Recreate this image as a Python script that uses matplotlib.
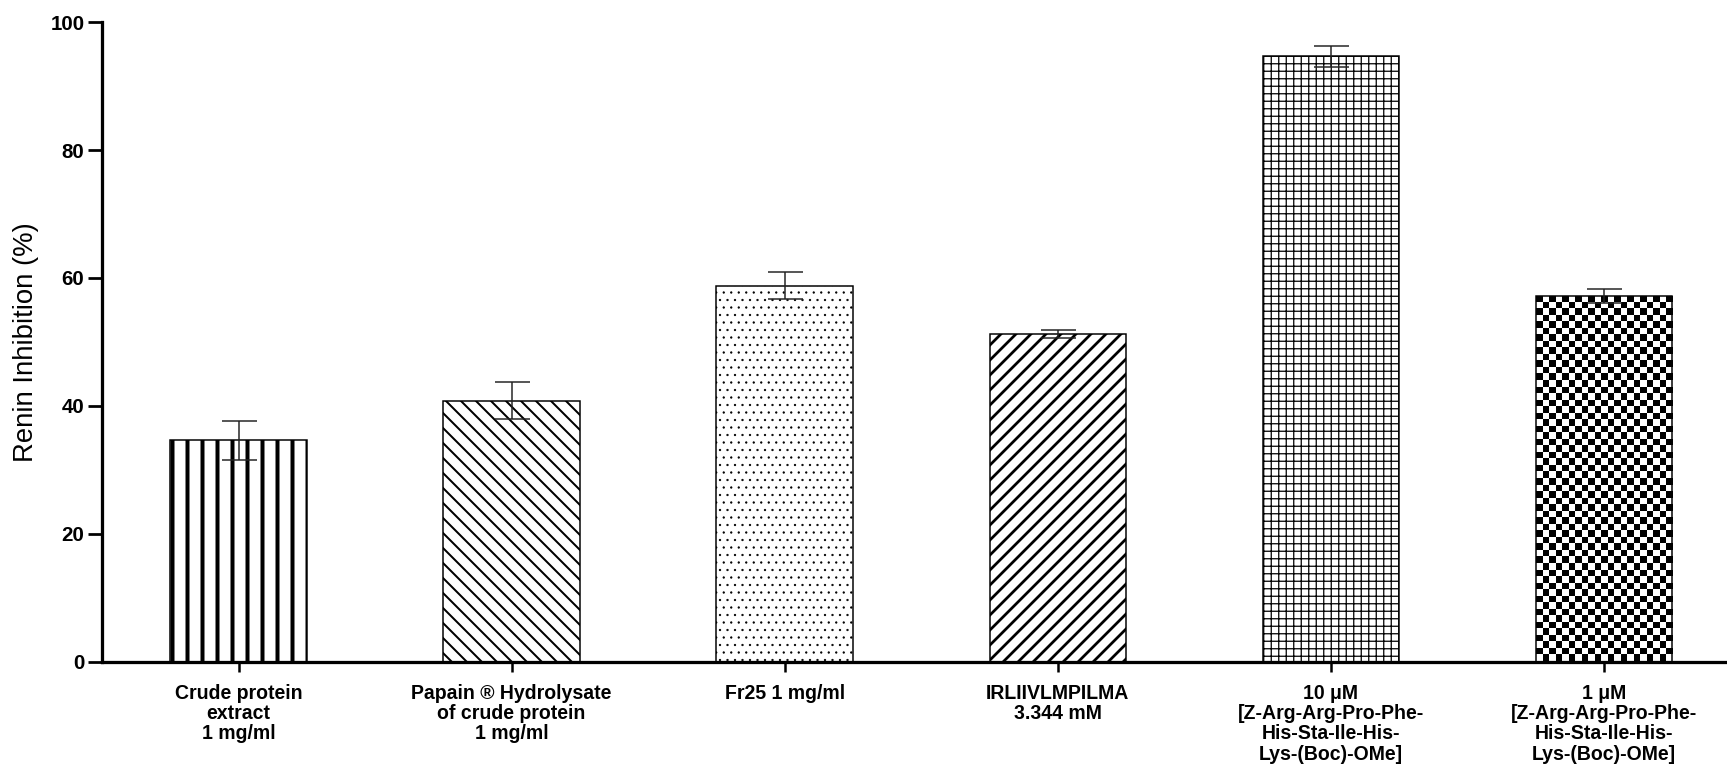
import numpy as np
import matplotlib
matplotlib.use('Agg')
import matplotlib.pyplot as plt

# --------------------------
# data
# --------------------------
categories = [
    'Crude protein\nextract\n1 mg/ml',
    'Papain ® Hydrolysate\nof crude protein\n1 mg/ml',
    'Fr25 1 mg/ml',
    'IRLIIVLMPILMA\n3.344 mM',
    '10 μM\n[Z-Arg-Arg-Pro-Phe-\nHis-Sta-Ile-His-\nLys-(Boc)-OMe]',
    '1 μM\n[Z-Arg-Arg-Pro-Phe-\nHis-Sta-Ile-His-\nLys-(Boc)-OMe]',
]
inhibition = [34.6, 40.8, 58.8, 51.2, 94.7, 57.2]
sem = [3.1, 2.85, 2.15, 0.6, 1.65, 1.1]
y_ticks = [0, 20, 40, 60, 80, 100]

# fill style of every bar (last one is a checkerboard, drawn below)
hatches = ['|', '\\\\', '..', '//', '++', None]
hatch_lws = [3.2, 1.6, 0.6, 2.2, 1.0, 1.0]

DPI = 90
W, H = 1727, 773

plt.rcParams['font.family'] = ['Liberation Sans', 'DejaVu Sans']

fig = plt.figure(figsize=(W / DPI, H / DPI), dpi=DPI)
ax = fig.add_axes([102 / W, 1 - 661.5 / H, 1 - 102 / W, (661.5 - 22.3) / H])

x = np.arange(len(categories))
bars = []
for i in range(len(categories)):
    with plt.rc_context({'hatch.linewidth': hatch_lws[i]}):
        b = ax.bar(x[i], inhibition[i], width=0.5,
                   facecolor='white' if hatches[i] else 'none',
                   edgecolor='black', linewidth=1.2,
                   hatch=hatches[i], zorder=2)[0]
    if hasattr(b, 'set_hatch_linewidth'):
        b.set_hatch_linewidth(hatch_lws[i])
    bars.append(b)

ax.errorbar(x, inhibition, yerr=sem, fmt='none', ecolor='#222222',
            elinewidth=1.2, capsize=14, capthick=1.2, zorder=3)

ax.set_xlim(-0.5, 5.45)
ax.set_ylim(0, 100)

# checkerboard texture for the last bar, clipped to the bar outline
b = bars[5]
x0, y0, bw, bh = b.get_x(), b.get_y(), b.get_width(), b.get_height()
p0 = ax.transData.transform((x0, y0))
p1 = ax.transData.transform((x0 + bw, y0 + bh))
nx = int(round((p1[0] - p0[0]) / 6.5))
ny = int(round((p1[1] - p0[1]) / 6.5))
checker = np.indices((ny, nx)).sum(axis=0) % 2
im = ax.imshow(checker, cmap='gray_r', vmin=0, vmax=1, origin='lower',
               extent=(x0, x0 + bw, y0, y0 + bh), interpolation='nearest',
               aspect='auto', zorder=1.5)
im.set_clip_path(b)

ax.set_xlim(-0.5, 5.45)
ax.set_ylim(0, 100)

# axes styling
for side in ['top', 'right']:
    ax.spines[side].set_visible(False)
for side in ['left', 'bottom']:
    ax.spines[side].set_linewidth(2.6)

ax.set_yticks(y_ticks)
ax.set_yticklabels([str(v) for v in y_ticks], fontsize=16.4, fontweight='bold')
ax.tick_params(axis='y', length=11, width=2.2, pad=3)

ax.set_xticks(x)
ax.set_xticklabels(categories, fontsize=15.6, fontweight='bold')
ax.tick_params(axis='x', length=8, width=2, pad=10)
for t in ax.get_xticklabels():
    t.set_linespacing(1.08)

ax.set_ylabel('Renin Inhibition (%)', fontsize=22, labelpad=9)

fig.savefig('out.png', dpi=DPI)
